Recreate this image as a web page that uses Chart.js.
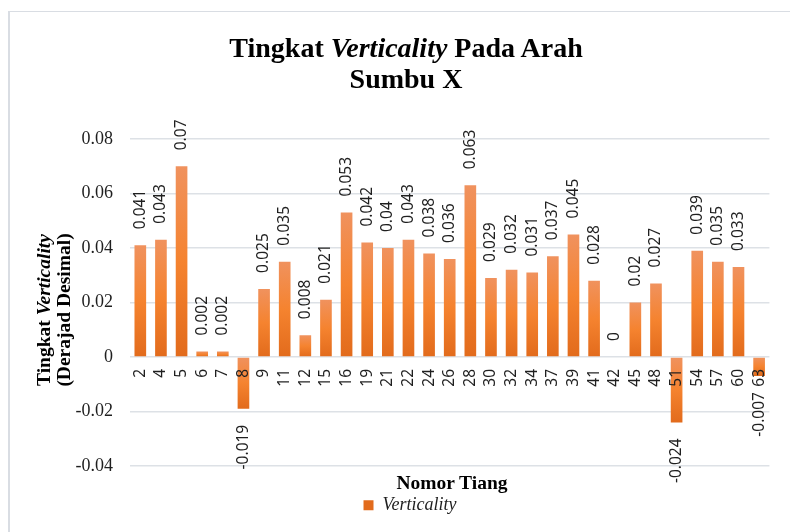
<!DOCTYPE html>
<html lang="id">
<head>
<meta charset="utf-8">
<title>Tingkat Verticality Pada Arah Sumbu X</title>
<script src="https://cdn.jsdelivr.net/npm/chart.js@4"></script>
<style>
  html, body { margin: 0; padding: 0; background: #fff; }
  .wrap { position: relative; width: 790px; height: 532px; overflow: hidden; }
  .frame {
    position: absolute; left: 8px; top: 11px; width: 800px; height: 540px;
    border-top: 1px solid #d9dde3; border-left: 2px solid #d9dde3;
  }
  #verticalityChart { position: absolute; left: 0; top: 0; }
  .chart-title {
    position: absolute; left: 106px; top: 32px; width: 600px;
    text-align: center; color: #000;
    font: bold 28px/31px "Liberation Serif", serif;
  }
  .y-title {
    position: absolute; left: -56px; top: 290px; width: 220px; height: 40px;
    transform: rotate(-90deg); text-align: center; white-space: nowrap; color: #000;
    font: bold 19.5px/20px "Liberation Serif", serif;
  }
  .x-title {
    position: absolute; left: 352px; top: 472px; width: 200px;
    text-align: center; color: #000;
    font: bold 19.5px/22px "Liberation Serif", serif;
  }
</style>
</head>
<body>
<div class="wrap">
  <div class="frame"></div>
  <canvas id="verticalityChart" width="790" height="532"></canvas>
  <div class="chart-title">Tingkat <i>Verticality</i> Pada Arah<br>Sumbu X</div>
  <div class="y-title">Tingkat <i>Verticality</i><br>(Derajad Desimal)</div>
  <div class="x-title">Nomor Tiang</div>
</div>
<script>
// ===== Data =====
const poles = ['2', '4', '5', '6', '7', '8', '9', '11', '12', '15', '16', '19', '21', '22', '24', '26',
  '28', '30', '32', '34', '37', '39', '41', '42', '45', '48', '51', '54', '57', '60', '63'];

const verticality = [0.041, 0.043, 0.07, 0.002, 0.002, -0.019, 0.025, 0.035, 0.008, 0.021, 0.053,
  0.042, 0.04, 0.043, 0.038, 0.036, 0.063, 0.029, 0.032, 0.031, 0.037, 0.045, 0.028, 0, 0.02,
  0.027, -0.024, 0.039, 0.035, 0.033, -0.007];

const yTicks = [-0.04, -0.02, 0, 0.02, 0.04, 0.06, 0.08];

const TEXT_COLOR = '#1f1f1f';
const GRID_COLOR = '#dde1e6';
const BAR_MID = '#f3802f';
const LABEL_GAP = 16;

// ===== Gradasi batang (terang di atas, gelap di bawah) =====
function barGradient(context) {
  const { ctx, chartArea, scales } = context.chart;
  if (context.type !== 'data' || !chartArea) return BAR_MID;
  const y0 = scales.y.getPixelForValue(0);
  const y1 = scales.y.getPixelForValue(context.raw);
  const top = Math.min(y0, y1);
  const bottom = Math.max(y0, y1);
  if (bottom - top < 1) return BAR_MID;
  const g = ctx.createLinearGradient(0, top, 0, bottom);
  g.addColorStop(0, '#f0925e');
  g.addColorStop(0.5, '#f5832f');
  g.addColorStop(1, '#e26b1c');
  return g;
}

// ===== Label nilai (diputar 90 derajat) =====
const barValueLabels = {
  id: 'barValueLabels',
  afterDatasetsDraw(chart) {
    const { ctx } = chart;
    const meta = chart.getDatasetMeta(0);
    ctx.save();
    ctx.font = '15.5px "Noto Sans"';
    ctx.fillStyle = TEXT_COLOR;
    ctx.textBaseline = 'middle';
    meta.data.forEach((bar, i) => {
      const v = verticality[i];
      ctx.save();
      ctx.translate(bar.x, v < 0 ? bar.y + LABEL_GAP : bar.y - LABEL_GAP);
      ctx.rotate(-Math.PI / 2);
      ctx.textAlign = v < 0 ? 'right' : 'left';
      ctx.fillText(String(v), 0, 0);
      ctx.restore();
    });
    ctx.restore();
  },
};

// ===== Grafik =====
function renderChart() {
  const canvas = document.getElementById('verticalityChart');

  new Chart(canvas, {
    type: 'bar',
    data: {
      labels: poles,
      datasets: [
        {
          label: 'Verticality',
          data: verticality,
          backgroundColor: barGradient,
          borderWidth: 0,
          categoryPercentage: 1,
          barPercentage: 0.565,
        },
      ],
    },
    options: {
      responsive: false,
      animation: false,
      layout: { padding: { left: 48, right: 18, top: 139, bottom: 7.7 } },
      plugins: {
        legend: {
          position: 'bottom',
          labels: {
            boxWidth: 10,
            boxHeight: 10,
            padding: 30.3,
            color: TEXT_COLOR,
            font: { family: 'Liberation Serif', style: 'italic', size: 18 },
          },
        },
        tooltip: { enabled: false },
      },
      scales: {
        x: {
          position: { y: 0 },
          grid: { display: false, drawTicks: false },
          border: { display: false },
          ticks: {
            z: 1, // nomor tiang tampil di atas batang negatif
            autoSkip: false,
            maxRotation: 90,
            minRotation: 90,
            padding: 12,
            color: TEXT_COLOR,
            font: { family: 'Noto Sans', size: 15.5 },
          },
        },
        y: {
          min: yTicks[0],
          max: yTicks[yTicks.length - 1],
          afterFit: (scale) => { scale.width = 82; },
          afterBuildTicks: (scale) => { scale.ticks = yTicks.map((value) => ({ value })); },
          grid: { color: GRID_COLOR, lineWidth: 1.5, drawTicks: false },
          border: { display: false },
          ticks: {
            padding: 17,
            color: TEXT_COLOR,
            font: { family: 'Liberation Serif', size: 18 },
            callback: (v) => String(+v.toFixed(2)),
          },
        },
      },
    },
    plugins: [barValueLabels],
  });
}

// ===== Init =====
document.addEventListener('DOMContentLoaded', renderChart);
</script>
</body>
</html>
